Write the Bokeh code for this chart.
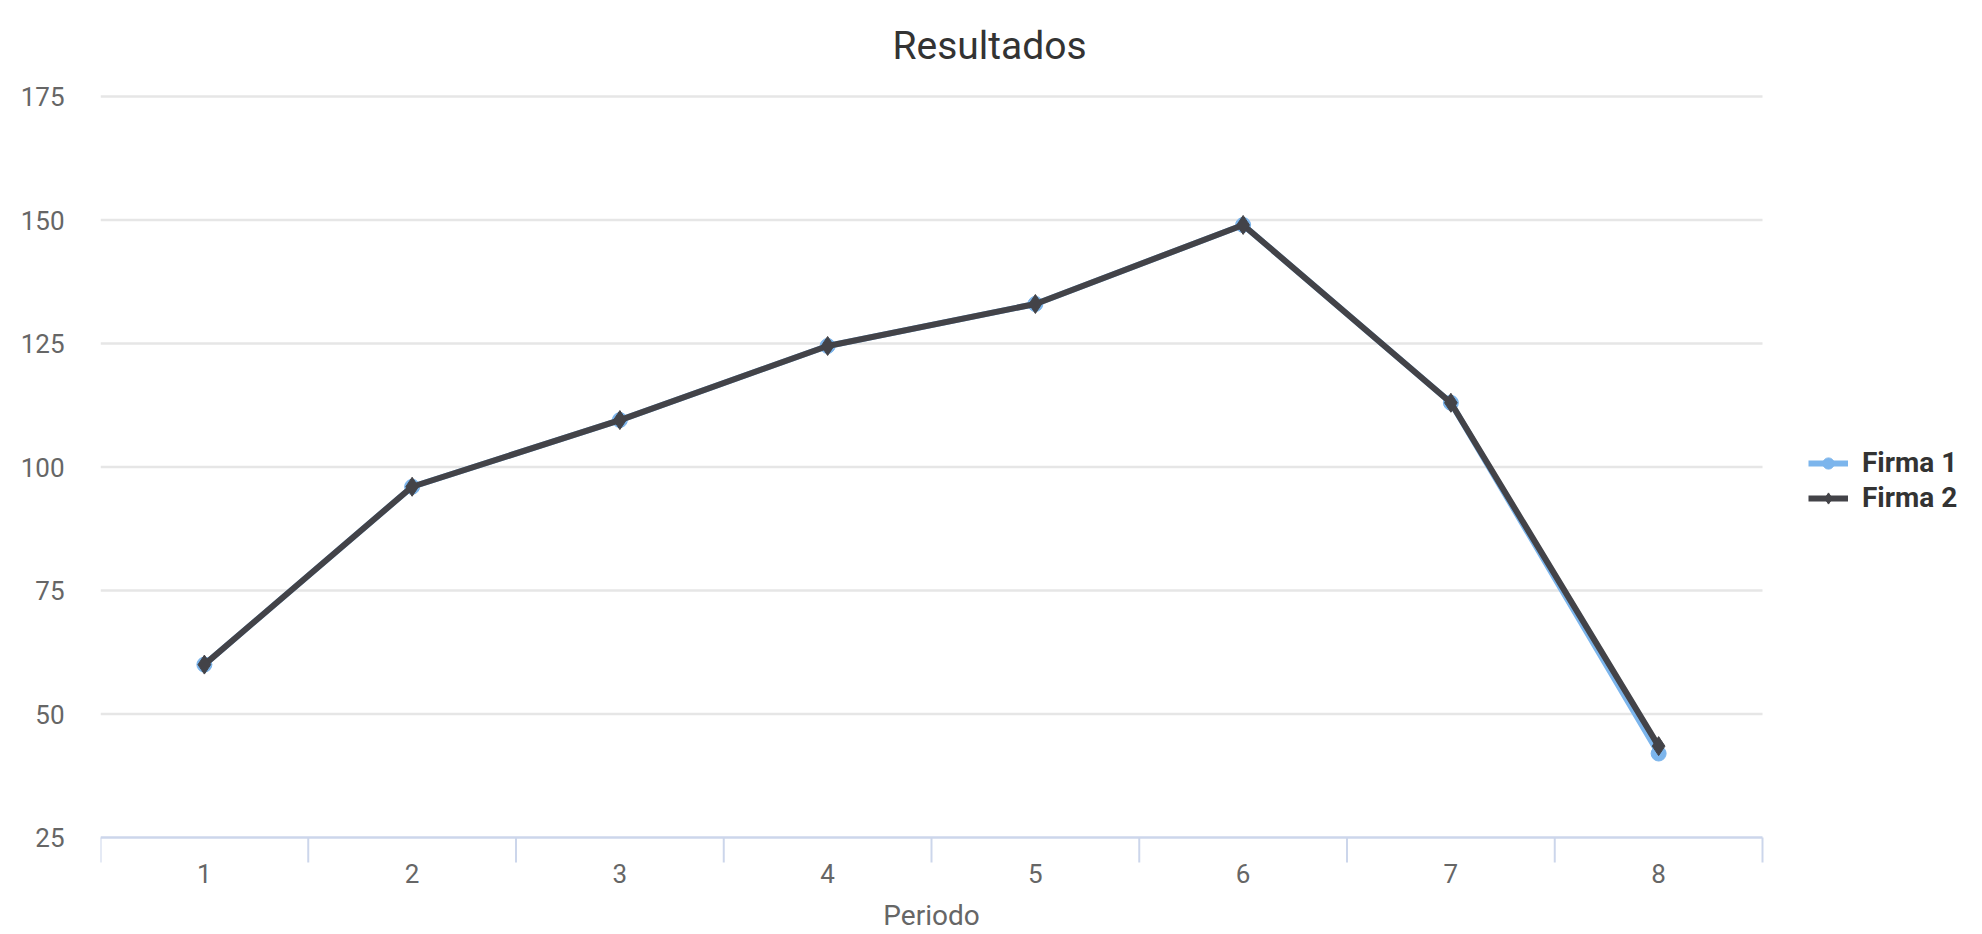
from bokeh.plotting import figure
from bokeh.models import (Range1d, FixedTicker, Legend, LegendItem,
                          ColumnDataSource, Label)
from bokeh.core.properties import value
from bokeh.embed import file_html
from bokeh.resources import INLINE

# ---- data ----
periodos = [1, 2, 3, 4, 5, 6, 7, 8]
firma1 = [60, 96, 109.5, 124.5, 133, 149, 113, 42]
firma2 = [60, 96, 109.5, 124.5, 133, 149, 113, 43.5]
y_ticks = [25, 50, 75, 100, 125, 150, 175]
x_ticks = [1, 2, 3, 4, 5, 6, 7, 8]
x_labels = ["1", "2", "3", "4", "5", "6", "7", "8"]
x_bounds = [0.5, 1.5, 2.5, 3.5, 4.5, 5.5, 6.5, 7.5, 8.5]

title_text = "Resultados"
x_title = "Periodo"
names = ["Firma 1", "Firma 2"]
colors = ["#7cb5ec", "#434348"]

FONT = "Roboto"

# frame: left 100, top 0, bottom 934; the 25..175 band spans 741 px
PX_PER_Y = 741 / 150.0
PX_PER_X = 1662 / 8.0
y_end = y_ticks[-1] + 96 / PX_PER_Y
y_start = y_ticks[0] - 97 / PX_PER_Y
x_end = x_bounds[0] + 1882 / PX_PER_X

def below_axis(px):
    return y_ticks[0] - px / PX_PER_Y

p = figure(width=1982, height=934, output_backend="svg", toolbar_location=None,
           x_range=Range1d(x_bounds[0], x_end), y_range=Range1d(y_start, y_end),
           x_axis_location=None,
           min_border_left=100, min_border_right=0,
           min_border_top=0, min_border_bottom=0)
p.outline_line_color = None
p.background_fill_color = "white"
p.border_fill_color = "white"

# horizontal grid lines limited to the category area
p.segment(x0=x_bounds[0], x1=x_bounds[-1], y0=y_ticks[1:], y1=y_ticks[1:],
          line_color="#e6e6e6", line_width=2.5)

# category (x) axis: line, boundary ticks, labels, title
p.segment(x0=x_bounds[0], x1=x_bounds[-1], y0=y_ticks[0], y1=y_ticks[0],
          line_color="#ccd6eb", line_width=2.5)
p.segment(x0=x_bounds, x1=x_bounds, y0=y_ticks[0], y1=below_axis(25),
          line_color="#ccd6eb", line_width=2)
p.text(x=x_ticks, y=below_axis(36), text=x_labels, text_align="center",
       text_baseline="alphabetic", text_font=value(FONT),
       text_font_size="26px", text_color="#666666")
p.add_layout(Label(x=(x_bounds[0] + x_bounds[-1]) / 2, y=below_axis(78),
                   text=x_title, text_align="center", text_baseline="alphabetic",
                   text_font=FONT, text_font_size="28px", text_color="#666666"))

# y axis
ya = p.yaxis[0]
ya.ticker = FixedTicker(ticks=y_ticks)
ya.axis_line_color = None
ya.major_tick_line_color = None
ya.minor_tick_line_color = None
ya.major_tick_out = 0
ya.major_tick_in = 0
ya.major_label_text_font = FONT
ya.major_label_text_font_size = "26px"
ya.major_label_text_color = "#666666"
ya.major_label_standoff = 36

p.xgrid.grid_line_color = None
p.ygrid.grid_line_color = None

src1 = ColumnDataSource(dict(x=periodos, y=firma1))
src2 = ColumnDataSource(dict(x=periodos, y=firma2))

l1 = p.line("x", "y", source=src1, line_color=colors[0], line_width=6)
m1 = p.scatter("x", "y", source=src1, marker="circle", size=15,
               fill_color=colors[0], line_color=colors[0])
l2 = p.line("x", "y", source=src2, line_color=colors[1], line_width=6)
m2 = p.scatter("x", "y", source=src2, marker="diamond", size=19,
               fill_color=colors[1], line_color=colors[1])

legend = Legend(items=[LegendItem(label=names[0], renderers=[l1, m1]),
                       LegendItem(label=names[1], renderers=[l2, m2])],
                location=(1708, 420), orientation="vertical")
legend.border_line_color = None
legend.background_fill_alpha = 0
legend.padding = 0
legend.margin = 0
legend.spacing = 2
legend.glyph_width = 40
legend.glyph_height = 28
legend.label_height = 28
legend.label_standoff = 14
legend.label_text_font = FONT
legend.label_text_font_size = "28px"
legend.label_text_font_style = "bold"
legend.label_text_color = "#333333"
p.add_layout(legend)

title = Label(x=x_bounds[0] + 889 / PX_PER_X, y=y_ticks[0] + (837 - 45) / PX_PER_Y,
              text=title_text, text_align="center", text_baseline="alphabetic",
              text_font=FONT, text_font_size="39px", text_color="#333333")
p.add_layout(title)

open("out.html", "w").write(file_html(p, INLINE))
